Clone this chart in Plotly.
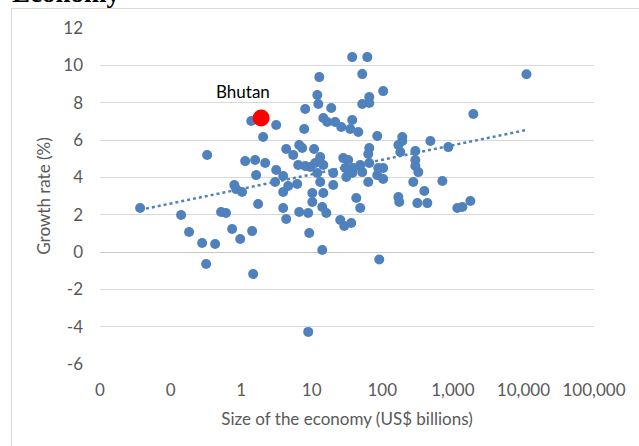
import numpy as np
import plotly.graph_objects as go

# Economy size (US$ billions) and real growth rate (%) by country
gdp_size = [
    0.037, 0.141, 0.183, 0.28, 0.428, 0.319, 0.33, 0.52, 0.61, 0.80,
    0.85, 1.03, 0.745, 0.97, 1.43, 1.48, 1.14, 1.58, 2.19, 1.63,
    1.74, 1.39, 2.05, 3.14, 3.14, 3.03, 37.5, 61.3, 12.8, 52.0,
    12.0, 12.4, 8.09, 18.9, 52.0, 65.4, 65.4, 7.83, 14.6, 16.6,
    21.5, 26.2, 37.5, 35.2, 45.7, 4.35, 5.47, 6.65, 7.33, 10.8,
    13.2, 28.0, 32.9, 65.4, 63.3, 3.94, 6.44, 8.09, 9.52, 11.2,
    12.0, 13.2, 3.94, 4.64, 6.23, 10.2, 14.6, 20.2, 20.2, 29.9,
    30.9, 37.5, 48.7, 52.0, 65.4, 63.3, 10.2, 42.8, 48.7, 3.94,
    4.35, 6.65, 8.92, 14.1, 16.1, 25.4, 28.9, 36.3, 9.22, 14.1,
    8.92, 90.6, 14.6, 38.8, 103, 1954, 84.9, 192, 192, 169,
    180, 480, 294, 863, 294, 294, 324, 87.7, 103, 84.9,
    103, 275, 394, 710, 169, 174, 314, 435, 1158, 1364,
    1770, 11040,
]
growth_rate = [
    2.36, 1.98, 1.07, 0.48, 0.43, -0.64, 5.20, 2.14, 2.09, 3.59,
    3.37, 3.21, 1.23, 0.70, 1.12, -1.18, 4.87, 4.93, 4.77, 4.12,
    2.57, 7.02, 6.16, 6.80, 4.39, 3.75, 10.44, 10.44, 9.37, 9.53,
    8.41, 7.93, 7.66, 7.71, 7.93, 8.30, 7.98, 6.59, 7.18, 6.96,
    6.96, 6.70, 7.07, 6.59, 6.43, 5.52, 5.20, 5.73, 5.57, 5.52,
    5.09, 5.03, 4.93, 5.57, 5.25, 4.07, 4.66, 4.61, 4.55, 4.77,
    4.23, 3.75, 3.21, 3.54, 3.64, 3.16, 3.16, 4.23, 3.59, 4.50,
    4.02, 4.23, 4.66, 4.28, 4.77, 3.75, 2.68, 2.89, 2.36, 2.36,
    1.77, 2.14, 2.09, 2.41, 2.09, 1.71, 1.39, 1.55, 1.02, 0.11,
    -4.28, -0.40, 4.66, 4.50, 8.62, 7.39, 6.21, 6.16, 5.95, 5.73,
    5.36, 5.95, 5.41, 5.62, 4.93, 4.61, 4.28, 4.50, 4.50, 4.12,
    3.91, 3.75, 3.27, 3.80, 2.95, 2.68, 2.62, 2.62, 2.36, 2.41,
    2.73, 9.52,
]

highlight_name = "Bhutan"
highlight_size = 1.92
highlight_growth = 7.18

x_tick_values = [0.01, 0.1, 1, 10, 100, 1000, 10000, 100000]
x_tick_labels = ["0", "0", "1", "10", "100", "1,000", "10,000", "100,000"]
y_tick_values = [-6, -4, -2, 0, 2, 4, 6, 8, 10, 12]
y_tick_labels = ["-6", "-4", "-2", "0", "2", "4", "6", "8", "10", "12"]

BLUE = "#4f81bd"
GRID = "#d9d9d9"
TEXT = "#595959"
FONT = "Lato, 'Open Sans', sans-serif"

# Logarithmic trend line fitted over all countries
all_x = np.array(gdp_size + [highlight_size])
all_y = np.array(growth_rate + [highlight_growth])
slope, intercept = np.polyfit(np.log10(all_x), all_y, 1)
trend_x = np.logspace(np.log10(all_x.min()), np.log10(all_x.max()), 60)
trend_y = intercept + slope * np.log10(trend_x)

fig = go.Figure()

fig.add_trace(go.Scatter(
    x=gdp_size, y=growth_rate, mode="markers",
    marker=dict(color=BLUE, size=10, line=dict(width=0)),
    hoverinfo="x+y", showlegend=False,
))
fig.add_trace(go.Scatter(
    x=trend_x, y=trend_y, mode="lines",
    line=dict(color=BLUE, width=2.5, dash="dot"),
    hoverinfo="skip", showlegend=False,
))
fig.add_trace(go.Scatter(
    x=[highlight_size], y=[highlight_growth], mode="markers",
    marker=dict(color="#ff0000", size=17, line=dict(width=0)),
    hoverinfo="x+y", showlegend=False,
))

fig.add_annotation(
    x=np.log10(highlight_size), y=highlight_growth, text=highlight_name,
    showarrow=False, xshift=-18, yshift=26,
    font=dict(family=FONT, size=17, color="#000000"),
)

# Chart heading, partly above the page edge
fig.add_annotation(
    xref="paper", yref="paper", x=-0.182, y=1.054,
    xanchor="left", yanchor="bottom", text="<b>Economy</b>",
    showarrow=False,
    font=dict(family="Liberation Serif, 'Times New Roman', serif", size=27, color="#000000"),
)

# Vertical axis crossing at x = 1
fig.add_shape(
    type="line", xref="x", yref="y",
    x0=np.log10(1), x1=np.log10(1), y0=-6, y1=12,
    line=dict(color="#c8c8c8", width=1.3), layer="below",
)

# Outer chart border
fig.add_shape(
    type="rect", xref="paper", yref="paper",
    x0=(11.5 - 100) / 494, x1=2, y0=-2, y1=(364 - 8.5) / 336,
    line=dict(color=GRID, width=1), fillcolor="rgba(0,0,0,0)",
)

fig.update_layout(
    width=639, height=446,
    margin=dict(l=100, r=45, t=28, b=82),
    paper_bgcolor="white", plot_bgcolor="white",
    font=dict(family=FONT, size=17, color=TEXT),
)

fig.update_xaxes(
    type="log", range=[-2, 5],
    tickvals=x_tick_values, ticktext=x_tick_labels,
    showgrid=False, zeroline=False, showline=False,
    ticks="", ticklabelstandoff=14,
    tickfont=dict(family=FONT, size=17, color=TEXT),
    title=dict(text="Size of the economy (US$ billions)", standoff=14,
               font=dict(family=FONT, size=17, color=TEXT)),
)
fig.update_yaxes(
    range=[-6, 12], tickvals=y_tick_values, ticktext=y_tick_labels,
    showgrid=True, gridcolor=GRID, gridwidth=1.3,
    zeroline=True, zerolinecolor="#c8c8c8", zerolinewidth=1.3,
    showline=False, ticks="", ticklabelstandoff=16,
    tickfont=dict(family=FONT, size=17, color=TEXT),
    title=dict(text="Growth rate (%)", standoff=8,
               font=dict(family=FONT, size=17, color=TEXT)),
)

fig.write_html("out.html")
